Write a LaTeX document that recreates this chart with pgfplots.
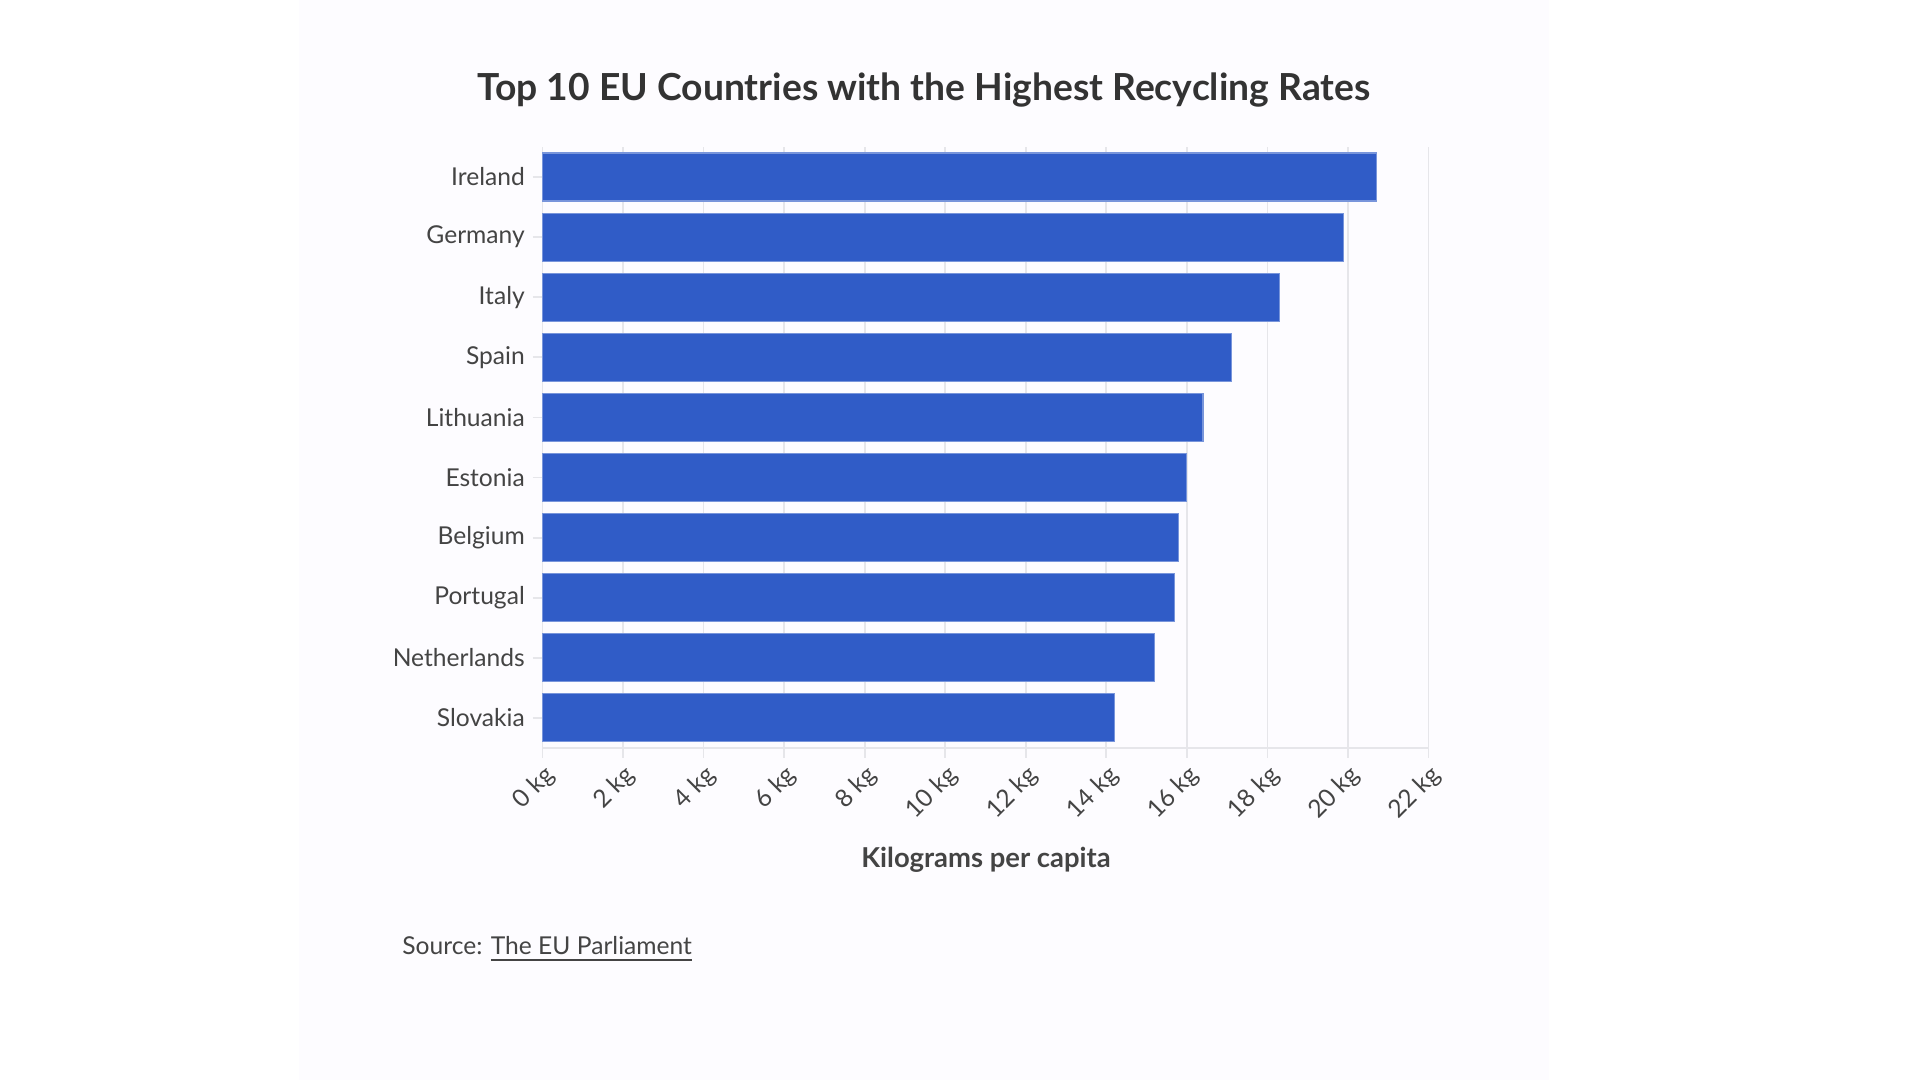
\documentclass[border=0pt]{standalone}
\usepackage{fontspec}
\setmainfont{Lato}
\usepackage{pgfplots}
\pgfplotsset{compat=1.18}
\definecolor{barblue}{RGB}{48,92,199}
\definecolor{txt}{RGB}{68,68,68}
\definecolor{ttl}{RGB}{51,51,51}
\definecolor{gridc}{RGB}{230,230,234}
\definecolor{bg}{RGB}{253,252,255}
\begin{document}
\begin{tikzpicture}[x=1cm,y=1cm]
\fill[white] (0,0) rectangle (19.2,10.8);
\fill[bg] (2.99,0) rectangle (15.49,10.8);
\useasboundingbox (0,0) rectangle (19.2,10.8);
\begin{axis}[
  at={(5.425cm,3.32cm)}, anchor=south west,
  scale only axis, width=8.86cm, height=6.01cm,
  xbar, bar width=0.48cm,
  xmin=0, xmax=22, ymin=-0.5, ymax=9.5,
  xtick={0,2,...,22},
  ytick={0,...,9},
  yticklabels={Slovakia,Netherlands,Portugal,Belgium,Estonia,Lithuania,Spain,Italy,Germany,Ireland},
  xticklabel={\pgfmathprintnumber{\tick}~kg},
  /pgf/number format/assume math mode=true,
  xmajorgrids=true, ymajorgrids=false,
  major grid style={draw=gridc, line width=0.5pt},
  axis x line*=bottom, axis y line*=left,
  x axis line style={draw=gridc, line width=0.8pt, -},
  y axis line style={draw=none},
  tick align=outside, major tick length=0.1cm,
  tick style={draw=gridc, line width=0.5pt},
  tick label style={font=\fontsize{7.0}{8}\selectfont, text=txt},
  xticklabel style={rotate=45, anchor=north east, inner sep=1pt},
  yticklabel style={inner sep=2pt},
  clip=false,
]
\addplot[fill=barblue, draw=barblue!65!white, line width=0.3pt] coordinates {
(14.2,0) (15.2,1) (15.7,2) (15.8,3) (16.0,4) (16.4,5) (17.1,6) (18.3,7) (19.9,8) (20.7,9)
};
\end{axis}
\node[text=ttl, font=\fontsize{10.6}{12}\selectfont\bfseries] at (9.24,9.90) {Top 10 EU Countries with the Highest Recycling Rates};
\node[text=txt, font=\fontsize{7.8}{10}\selectfont\bfseries] at (9.86,2.20) {Kilograms per capita};
\node[text=txt, font=\fontsize{7.0}{9}\selectfont, anchor=base west, inner sep=0pt] at (4.017,1.25) {Source: \underline{The EU Parliament}};
\end{tikzpicture}
\end{document}
